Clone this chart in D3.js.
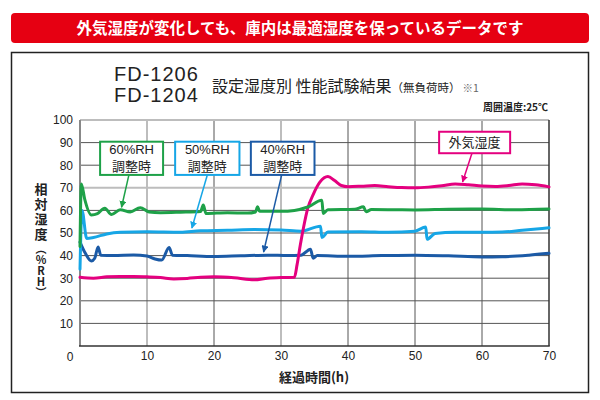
<!DOCTYPE html>
<html><head><meta charset="utf-8">
<script src="https://cdn.jsdelivr.net/npm/d3@7"></script>
<style>
html,body{margin:0;padding:0;background:#fff;}
svg{display:block;}
</style></head>
<body>
<svg id="chart" width="600" height="400"></svg>
<script>
// ---- data ----
const xTicks = [10, 20, 30, 40, 50, 60, 70];
const yTicks = [10, 20, 30, 40, 50, 60, 70, 80, 90, 100];

const outsideRH = [[0,30.4],[2,30.0],[4,30.6],[6,30.8],[8,30.8],[10,30.6],[12,30.3],[14,29.7],[16,29.9],[18,30.4],[20,30.6],[23,30.2],[26,29.3],[28,30.0],[30,30.3],[32,30.4],[32.4,36],[32.9,45],[33.4,53],[34,61],[34.8,67],[35.8,72.5],[37,75],[38,73.2],[39,71],[40,70.5],[42,70.7],[44,71.0],[46,70.5],[48,70.1],[50,70.0],[52,70.3],[54,70.9],[56,71.7],[58,71.3],[60,70.8],[62,70.6],[64,71.0],[66,71.7],[68,71.3],[70,70.4]];

const rh60 = [[0,44],[0.2,71.7],[0.7,65],[1.7,58],[2.6,58.6],[3.7,61],[4.7,58.2],[6,60.3],[7.5,59.3],[9,61.2],[10.3,59.3],[12,59.0],[15,59.2],[18,59.5],[18.4,62.4],[18.8,58.6],[22,59.0],[25,58.8],[26.2,59.3],[26.5,61.6],[26.8,59.6],[30,59.6],[32,60.0],[34,61.5],[36.1,64.5],[36.3,58.6],[37,60.3],[41,60.5],[42.3,61.6],[42.7,59.4],[43.5,60.4],[47,60.3],[50,60.2],[55,60.5],[60,60.6],[65,60.3],[70,60.6]];

const rh50 = [[0,34],[0.3,60],[1.0,47.6],[2,48.0],[4,49.6],[6,50.3],[10,50.5],[15,50.3],[18,51.0],[22,51.2],[26,51.5],[30,51.3],[33,50.8],[35.9,53.0],[36.1,48.0],[37,50.4],[42,50.6],[46,50.3],[50,50.8],[51.6,52.6],[51.8,47.2],[53,49.8],[56,50.3],[60,50.3],[63,50.4],[66,51.2],[70,52.3]];

const rh40 = [[0,46],[0.8,41],[1.7,37.6],[2.2,38.8],[2.7,43.8],[3.1,40.2],[5,40.0],[8,40.3],[10,39.8],[11.2,38.5],[12.2,38.0],[13.3,43.6],[13.8,40.2],[16,40.0],[20,39.6],[24,39.9],[28,40.2],[31,40.0],[33,40.2],[34.4,42.8],[34.8,38.8],[35.4,40.0],[40,39.7],[45,40.0],[50,40.2],[55,39.9],[60,39.4],[63,39.5],[67,40.2],[70,41.0]];

const seriesNames = ["外気湿度", "60%RH", "50%RH", "40%RH"];

// ---- layout ----
const svg = d3.select("#chart");
const x = d3.scaleLinear().domain([0, 70]).range([80, 549]);
const y = d3.scaleLinear().domain([0, 100]).range([346, 120]);
const colors = {pink:"#e4007f", green:"#1ea148", light:"#16a6e6", dark:"#1b5aa6", red:"#e60012"};
const jp = "'Noto Sans CJK JP', 'Noto Sans', sans-serif";
const lat = "'Liberation Sans', Arial, sans-serif";

// banner
svg.append("rect").attr("x",11).attr("y",13).attr("width",578).attr("height",30).attr("rx",4).attr("fill",colors.red);
svg.append("text").attr("x",300).attr("y",33.5).attr("text-anchor","middle").attr("fill","#fff")
  .attr("font-family",jp).attr("font-size",15.5).attr("font-weight","bold")
  .text("外気湿度が変化しても、庫内は最適湿度を保っているデータです");

// frame
svg.append("rect").attr("x",11.5).attr("y",52.5).attr("width",577).attr("height",340).attr("fill","none").attr("stroke","#222").attr("stroke-width",1.5);

// titles
svg.append("text").attr("x",114).attr("y",81).attr("font-family",lat).attr("font-size",20).attr("letter-spacing",1).attr("fill","#222").text("FD-1206");
svg.append("text").attr("x",114).attr("y",102).attr("font-family",lat).attr("font-size",20).attr("letter-spacing",1).attr("fill","#222").text("FD-1204");
const t2 = svg.append("text").attr("x",212).attr("y",92).attr("font-family",jp).attr("fill","#222");
t2.append("tspan").attr("font-size",16).text("設定湿度別 性能試験結果");
t2.append("tspan").attr("font-size",11.5).text("（無負荷時）");
t2.append("tspan").attr("font-size",10.5).attr("fill","#666").attr("dx",2).text("※1");
svg.append("text").attr("x",548).attr("y",111).attr("text-anchor","end").attr("font-family",jp).attr("font-size",10).attr("font-weight","bold").attr("fill","#222").text("周囲温度:25℃");

// grid
const g = svg.append("g");
const lightX = [10, 30], lightY = [70, 100];
xTicks.forEach(t => {
  if (t === 70) return;
  const light = lightX.includes(t);
  g.append("line").attr("x1",x(t)).attr("x2",x(t)).attr("y1",y(100)).attr("y2",y(0))
    .attr("stroke", light ? "#bdbdbd" : "#555").attr("stroke-width", light ? 2 : 1);
});
yTicks.forEach(v => {
  const light = lightY.includes(v);
  g.append("line").attr("x1",x(0)).attr("x2",x(70)).attr("y1",y(v)).attr("y2",y(v))
    .attr("stroke", light ? "#bdbdbd" : "#555").attr("stroke-width", light ? 2 : 1);
});
// axes frame
g.append("line").attr("x1",x(0)).attr("x2",x(0)).attr("y1",y(100)).attr("y2",y(0)).attr("stroke","#888").attr("stroke-width",2);
g.append("line").attr("x1",x(70)).attr("x2",x(70)).attr("y1",y(100)).attr("y2",y(0)).attr("stroke","#333").attr("stroke-width",1.5);
g.append("line").attr("x1",x(0)-1).attr("x2",x(70)+0.75).attr("y1",y(0)).attr("y2",y(0)).attr("stroke","#333").attr("stroke-width",1.5);

// tick labels via axes
const yAxis = d3.axisLeft(y).tickValues(yTicks).tickSize(0).tickPadding(7);
const ya = svg.append("g").attr("transform",`translate(${x(0)},0)`).call(yAxis);
ya.select(".domain").remove();
ya.selectAll("text").attr("font-family",lat).attr("font-size",12).attr("fill","#222");
const xAxis = d3.axisBottom(x).tickValues(xTicks).tickSize(0).tickPadding(5);
const xa = svg.append("g").attr("transform",`translate(0,${y(0)})`).call(xAxis);
xa.select(".domain").remove();
xa.selectAll("text").attr("font-family",lat).attr("font-size",12).attr("fill","#222");
// origin label
svg.append("text").attr("x",x(0)-10).attr("y",y(0)+15).attr("text-anchor","middle").attr("font-family",lat).attr("font-size",12).attr("fill","#222").text("0");

// axis titles (vertical writing)
const yl = svg.append("text").attr("x",41).attr("y",183)
  .attr("style","writing-mode: vertical-rl; text-orientation: upright;")
  .attr("font-family",jp).attr("font-weight","bold").attr("fill","#222");
yl.append("tspan").attr("font-size",13).attr("letter-spacing",2).text("相対湿度");
yl.append("tspan").attr("font-size",11).text("（%RH）");
svg.append("text").attr("x",314).attr("y",382).attr("text-anchor","middle").attr("font-family",jp).attr("font-size",13).attr("font-weight","bold").attr("fill","#222").text("経過時間(h)");

// lines
const line = d3.line().x(d => x(d[0])).y(d => y(d[1])).curve(d3.curveMonotoneX);
const lg = svg.append("g").attr("fill","none").attr("stroke-width",3).attr("stroke-linejoin","round").attr("stroke-linecap","round");
lg.append("path").datum(rh40).attr("d",line).attr("stroke",colors.dark);
lg.append("path").datum(rh50).attr("d",line).attr("stroke",colors.light);
lg.append("path").datum(outsideRH).attr("d",line).attr("stroke",colors.pink);
lg.append("path").datum(rh60).attr("d",line).attr("stroke",colors.green);

// callouts
const defs = svg.append("defs");
function marker(id, col){
  defs.append("marker").attr("id",id).attr("viewBox","0 0 10 10").attr("refX",9).attr("refY",5)
    .attr("markerWidth",7).attr("markerHeight",7).attr("markerUnits","userSpaceOnUse").attr("orient","auto")
    .append("path").attr("d","M0,0L10,5L0,10Z").attr("fill",col);
}
const callouts = [
  {lines:["60%RH","調整時"], col:colors.green, box:[3.0,12.4,90.4,75.7], from:[7.3,75.7], to:[6.2,61.4]},
  {lines:["50%RH","調整時"], col:colors.light, box:[14.2,23.8,90.4,75.7], from:[19.0,75.7], to:[16.7,52.2]},
  {lines:["40%RH","調整時"], col:colors.dark, box:[25.5,35.0,90.4,75.7], from:[30.1,75.7], to:[27.4,41.6]},
  {lines:["外気湿度"], col:colors.pink, box:[53.6,64.2,94.8,85.3], from:[58.5,85.3], to:[57.1,72.6]}
];
callouts.forEach((c,i) => {
  marker("arr"+i, c.col);
  const [x0,x1,v0,v1] = c.box;
  svg.append("line").attr("x1",x(c.from[0])).attr("y1",y(c.from[1])).attr("x2",x(c.to[0])).attr("y2",y(c.to[1]))
    .attr("stroke",c.col).attr("stroke-width",1.5).attr("marker-end",`url(#arr${i})`);
  svg.append("rect").attr("x",x(x0)).attr("y",y(v0)).attr("width",x(x1)-x(x0)).attr("height",y(v1)-y(v0))
    .attr("fill","#fff").attr("stroke",c.col).attr("stroke-width",2);
  const cx = (x(x0)+x(x1))/2, cy = (y(v0)+y(v1))/2;
  const n = c.lines.length;
  c.lines.forEach((s,j) => {
    svg.append("text").attr("x",cx).attr("y",cy + (j-(n-1)/2)*17).attr("dy","0.36em").attr("text-anchor","middle")
      .attr("font-family", j===0 && n>1 ? lat : jp).attr("font-size",13).attr("fill","#222").text(s);
  });
});
</script>
</body></html>
